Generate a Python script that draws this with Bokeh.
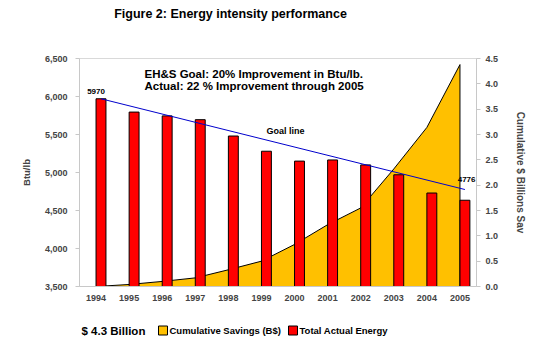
from bokeh.plotting import figure
from bokeh.layouts import column
from bokeh.models import (Range1d, FactorRange, LinearAxis, NumeralTickFormatter,
                          FixedTicker, Label, ColumnDataSource)
from bokeh.transform import dodge
from bokeh.core.properties import value
from bokeh.embed import file_html
from bokeh.resources import INLINE

# ---------------- data ----------------
years = ["1994", "1995", "1996", "1997", "1998", "1999",
         "2000", "2001", "2002", "2003", "2004", "2005"]
energy = [5970, 5795, 5745, 5695, 5480, 5280, 5150, 5165, 5100, 4970, 4730, 4635]
savings = [0.0, 0.04, 0.10, 0.17, 0.33, 0.50, 0.83, 1.22, 1.55, 2.32, 3.14, 4.38]
goal_years = ["1994", "2005"]
goal_values = [5970, 4776]
left_ticks = [3500, 4000, 4500, 5000, 5500, 6000, 6500]
right_ticks = [0.0, 0.5, 1.0, 1.5, 2.0, 2.5, 3.0, 3.5, 4.0, 4.5]
title_text = "Figure 2: Energy intensity performance"
note_lines = ["EH&S Goal: 20% Improvement in Btu/lb.",
              "Actual: 22 % Improvement through 2005"]
total_text = "$ 4.3 Billion"
legend_labels = ["Cumulative Savings (B$)", "Total Actual Energy"]

FONT = "Liberation Sans"
GOLD = "#FFC000"
RED = "#FF0000"
AXIS_GREY = "#C8C8C8"
W = 546
FRAME_L, FRAME_R = 79, 476   # page-pixel extent of the (aligned) plot frames


def strip_fig(h):
    # helper strip whose frame is aligned with the main frame; data units = page px
    f = figure(width=W, height=h, x_range=Range1d(FRAME_L, FRAME_R), y_range=Range1d(0, h),
               output_backend="svg", toolbar_location=None,
               x_axis_type=None, y_axis_type=None, min_border=0,
               min_border_left=FRAME_L, min_border_right=W - FRAME_R)
    f.xgrid.visible = False
    f.ygrid.visible = False
    f.outline_line_color = None
    return f


# ---------------- title strip ----------------
top = strip_fig(40)
top.text(x=[230], y=[27], text=[title_text], text_font=value(FONT),
         text_font_size="12.5px", text_font_style="bold",
         text_align="center", text_baseline="middle", text_color="black")

# ---------------- main chart ----------------
p = figure(width=W, height=272,
           x_range=FactorRange(*years, range_padding=0),
           y_range=Range1d(3500, 6500),
           output_backend="svg", toolbar_location=None,
           min_border_left=FRAME_L, min_border_right=W - FRAME_R,
           min_border_top=18, min_border_bottom=26)
p.xgrid.visible = False
p.ygrid.visible = False
p.outline_line_color = "#D9D9D9"

ya = p.yaxis[0]
ya.ticker = FixedTicker(ticks=left_ticks)
ya.formatter = NumeralTickFormatter(format="0,0")
ya.axis_label = "Btu/lb"
ya.axis_label_text_font = FONT
ya.axis_label_text_font_size = "9.5px"
ya.axis_label_text_font_style = "bold"
ya.axis_label_standoff = 10
ya.major_label_text_font = FONT
ya.major_label_text_font_size = "9px"
ya.major_label_text_font_style = "bold"
ya.major_label_standoff = 8
ya.major_tick_in = 0
ya.major_tick_out = 4
ya.minor_tick_out = 0
ya.minor_tick_in = 0
ya.axis_line_color = AXIS_GREY
ya.major_tick_line_color = AXIS_GREY

xa = p.xaxis[0]
xa.major_label_text_font = FONT
xa.major_label_text_font_size = "9px"
xa.major_label_text_font_style = "bold"
xa.major_label_standoff = 8
xa.major_tick_in = 0
xa.major_tick_out = 0
xa.axis_line_color = AXIS_GREY

p.extra_y_ranges = {"sav": Range1d(0, 4.5)}
ra = LinearAxis(y_range_name="sav")
ra.ticker = FixedTicker(ticks=right_ticks)
ra.formatter = NumeralTickFormatter(format="0.0")
ra.axis_label = "Cumulative $ Billions Sav"
ra.axis_label_text_font = FONT
ra.axis_label_text_font_size = "10px"
ra.axis_label_text_font_style = "bold"
ra.axis_label_standoff = 14
ra.major_label_text_font = FONT
ra.major_label_text_font_size = "9px"
ra.major_label_text_font_style = "bold"
ra.major_label_standoff = 5
ra.major_tick_in = 0
ra.major_tick_out = 4
ra.minor_tick_in = 0
ra.minor_tick_out = 0
ra.axis_line_color = AXIS_GREY
ra.major_tick_line_color = AXIS_GREY
p.add_layout(ra, "right")

# cumulative savings area
p.varea(x=years, y1=0, y2=savings, y_range_name="sav", fill_color=GOLD)
p.line(x=years + [years[-1]], y=savings + [0], y_range_name="sav",
       line_color="black", line_width=1)

# bars
src = ColumnDataSource(dict(year=years, energy=energy))
p.vbar(x=dodge("year", 0.15, range=p.x_range), top="energy", bottom=3500,
       width=0.3, source=src, fill_color=RED, line_color="black", line_width=1)

# goal line
gsrc = ColumnDataSource(dict(year=goal_years, goal=goal_values))
p.line(x=dodge("year", 0.15, range=p.x_range), y="goal", source=gsrc,
       line_color="#0000CC", line_width=1)

p.text(x=dodge("year", 0.0, range=p.x_range), y="goal", text="lab",
       source=ColumnDataSource(dict(year=goal_years[:1], goal=goal_values[:1],
                                    lab=[str(goal_values[0])])),
       text_font=value(FONT), text_font_size="8px", text_font_style="bold",
       text_align="center", text_baseline="middle", y_offset=-7)
p.text(x=dodge("year", 0.2, range=p.x_range), y="goal", text="lab",
       source=ColumnDataSource(dict(year=goal_years[1:], goal=goal_values[1:],
                                    lab=[str(goal_values[1])])),
       text_font=value(FONT), text_font_size="8px", text_font_style="bold",
       text_align="center", text_baseline="middle", y_offset=-10)


def lab(text, x, y, size, align="left"):
    p.add_layout(Label(x=x, y=y, x_units="screen", y_units="screen", text=text,
                       text_font=FONT, text_font_size=size, text_font_style="bold",
                       text_align=align, text_baseline="middle", text_color="black"))


lab(note_lines[0], 65, 213, "11.5px")
lab(note_lines[1], 65, 201, "11.5px")
lab("Goal line", 206, 156, "9px", "center")

# ---------------- legend strip ----------------
bot = strip_fig(45)
bot.text(x=[81], y=[27], text=[total_text], text_font=value(FONT),
         text_font_size="11.5px", text_font_style="bold",
         text_align="left", text_baseline="middle", text_color="black")
bot.rect(x=[162.5, 292.5], y=[27, 27], width=9, height=9,
         fill_color=[GOLD, RED], line_color="black", line_width=1)
bot.text(x=[169, 299], y=[27, 27], text=legend_labels, text_font=value(FONT),
         text_font_size="9.5px", text_font_style="bold",
         text_align="left", text_baseline="middle", text_color="black")

layout = column(top, p, bot, spacing=0)
open("out.html", "w").write(file_html(layout, INLINE))
